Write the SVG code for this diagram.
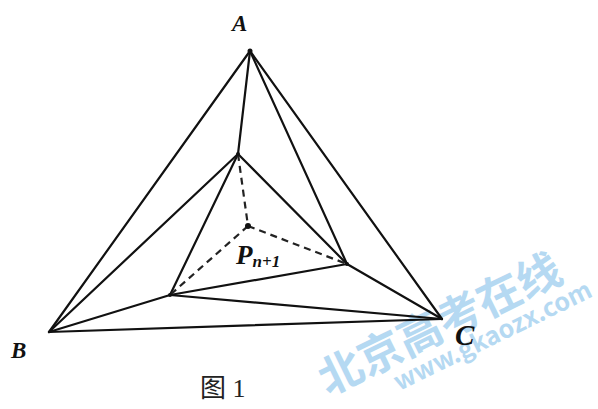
<svg xmlns="http://www.w3.org/2000/svg" width="598" height="409" viewBox="0 0 598 409">
<style>
.s{stroke:#111;stroke-width:2.2;fill:none;stroke-linecap:round}
.d{stroke:#222;stroke-width:2.2;fill:none;stroke-dasharray:7,5}
.lbl{font-family:"Liberation Serif",serif;font-style:italic;font-weight:bold;fill:#111}
.wm{font-family:"Noto Sans CJK SC","DejaVu Sans",sans-serif;font-weight:bold;fill:#a9d3f0;opacity:0.85}
</style>
<rect width="598" height="409" fill="#fff"/>
<g id="watermark">
<text class="wm" font-size="44" transform="translate(328,396) rotate(-26)">北京高考在线</text>
<text class="wm" font-size="25" text-anchor="end" font-family="'DejaVu Sans',sans-serif" transform="translate(594,296) rotate(-26)">www.gkaozx.com</text>
</g>
<g id="connectors">
<line class="s" x1="250" y1="51" x2="49" y2="332"/>
<line class="s" x1="250" y1="51" x2="442" y2="319"/>
<line class="s" x1="49" y1="332" x2="442" y2="319"/>
<line class="s" x1="250" y1="51" x2="238" y2="154"/>
<line class="s" x1="250" y1="51" x2="347" y2="264"/>
<line class="s" x1="49" y1="332" x2="238" y2="154"/>
<line class="s" x1="49" y1="332" x2="170" y2="295"/>
<line class="s" x1="170" y1="295" x2="442" y2="319"/>
<line class="s" x1="347" y1="264" x2="442" y2="319"/>
<line class="s" x1="238" y1="154" x2="347" y2="264"/>
<line class="s" x1="238" y1="154" x2="170" y2="295"/>
<line class="s" x1="170" y1="295" x2="347" y2="264"/>
<line class="d" x1="238" y1="154" x2="248" y2="226"/>
<line class="d" x1="248" y1="226" x2="347" y2="264"/>
<line class="d" x1="248" y1="226" x2="170" y2="295"/>
</g>
<g id="A"><circle cx="250" cy="51" r="2.5" fill="#111"/><text class="lbl" x="232" y="31" font-size="23">A</text></g>
<g id="B"><text class="lbl" x="11" y="358" font-size="23">B</text></g>
<g id="C"><text class="lbl" x="455" y="345" font-size="29" fill="#0d2233">C</text></g>
<g id="D"><circle cx="238" cy="154" r="2" fill="#111"/></g>
<g id="E"><circle cx="347" cy="264" r="2" fill="#111"/></g>
<g id="F"><circle cx="170" cy="295" r="2" fill="#111"/></g>
<g id="P"><circle cx="248" cy="226" r="3" fill="#111"/><text class="lbl" x="236" y="264" font-size="27">P<tspan font-size="17" dy="3">n+1</tspan></text></g>
<g id="caption"><text x="200" y="397" font-family="'Liberation Serif','Noto Sans CJK SC',serif" font-size="26" fill="#222">图 1</text></g>
</svg>
